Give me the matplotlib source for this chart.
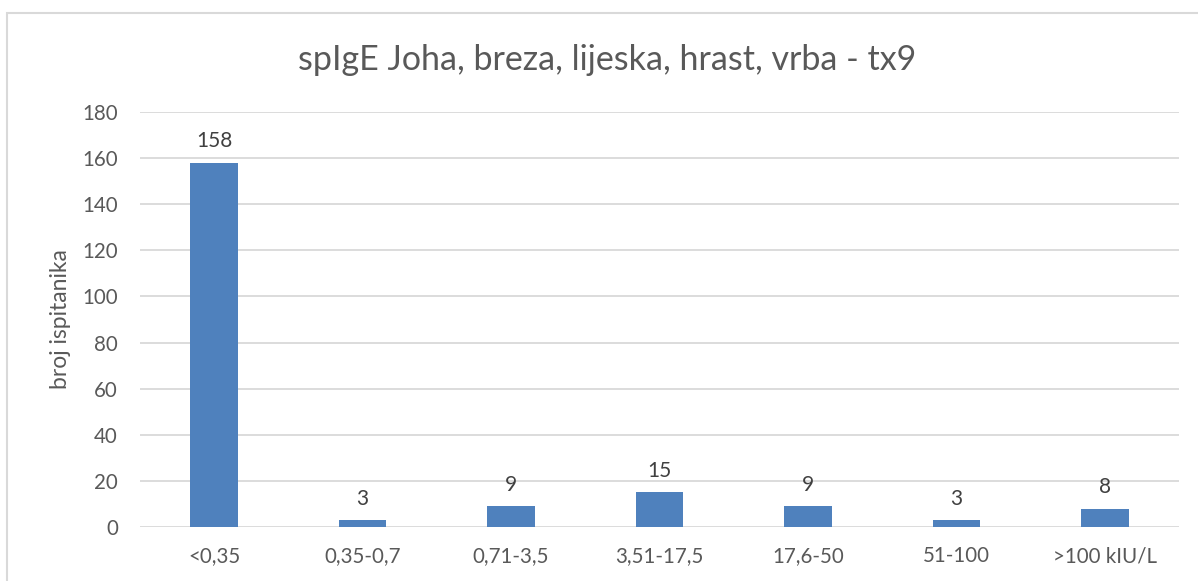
import matplotlib
matplotlib.use("Agg")
import matplotlib.pyplot as plt
from matplotlib.patches import Rectangle

categories = ["<0,35", "0,35-0,7", "0,71-3,5", "3,51-17,5", "17,6-50", "51-100", ">100 kIU/L"]
counts = [158, 3, 9, 15, 9, 3, 8]
y_ticks = [0, 20, 40, 60, 80, 100, 120, 140, 160, 180]

TEXT = "#595959"
GRID = "#D9D9D9"
BAR = "#4F81BD"

plt.rcParams["font.family"] = ["Lato", "DejaVu Sans"]

W, H = 1198, 581
fig = plt.figure(figsize=(W / 100, H / 100), dpi=100)
ax = fig.add_axes([140 / W, 1 - 527 / H, (1179 - 140) / W, (527 - 112) / H])

x = range(len(categories))
ax.bar(x, counts, width=0.32, color=BAR, zorder=3)
for xi, v in zip(x, counts):
    ax.text(xi, v + 5, str(v), ha="center", va="bottom", fontsize=15, color="#404040")

ax.set_xlim(-0.5, len(categories) - 0.5)
ax.set_ylim(0, 180)
ax.set_yticks(y_ticks)
ax.set_xticks(list(x))
ax.set_xticklabels(categories)
ax.grid(axis="y", color=GRID, lw=1.3, zorder=0)
ax.tick_params(axis="both", length=0, labelsize=14.8, colors=TEXT)
ax.tick_params(axis="x", pad=14)
ax.tick_params(axis="y", pad=16)
for s in ax.spines.values():
    s.set_visible(False)
ax.set_ylabel("broj ispitanika", fontsize=16.5, color=TEXT, labelpad=8)

fig.text(0.5 * (297 + 918) / W, 1 - 60 / H, "spIgE Joha, breza, lijeska, hrast, vrba - tx9",
         ha="center", va="center", fontsize=24.5, color=TEXT)

# chart outline like the Excel frame
fig.patches.append(Rectangle((7 / W, -0.1), 1.2, 1 - 13 / H + 0.1, transform=fig.transFigure,
                             fill=False, edgecolor=GRID, lw=1.5))

fig.savefig("out.png", dpi=100)
